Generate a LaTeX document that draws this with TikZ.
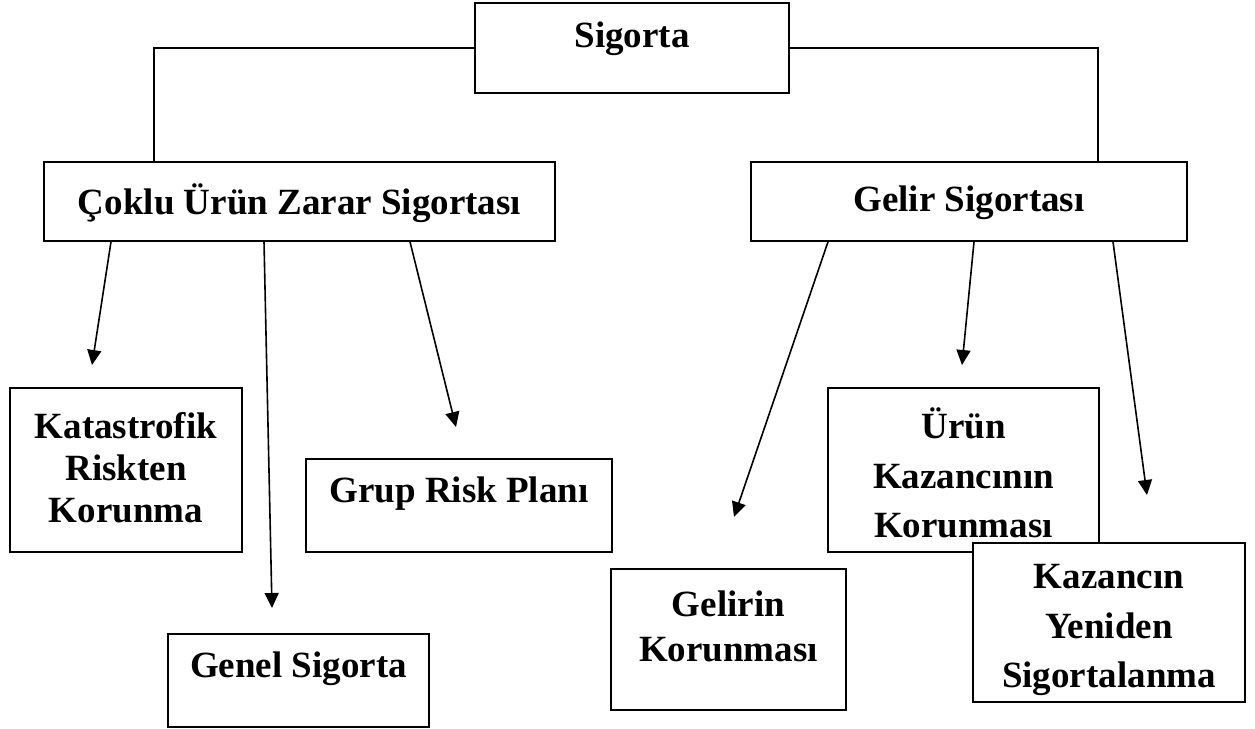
\documentclass[tikz,border=0pt]{standalone}
\usepackage{fontspec}
\setmainfont{Liberation Serif}
\usetikzlibrary{arrows.meta}
\tikzset{
  box/.style={draw, line width=1.6pt, fill=white, inner sep=0pt},
  lbl/.style={align=center, font=\bfseries\fontsize{37}{43}\selectfont, inner sep=0pt},
  conn/.style={line width=1.6pt},
  arr/.style={line width=1.6pt, -{Triangle[length=15pt,width=14pt]}}
}
\begin{document}
\begin{tikzpicture}[x=1pt,y=-1pt]
\useasboundingbox (0,0) rectangle (1255,728);
% boxes
\node[box, minimum width=314pt, minimum height=90pt] (sig) at (632,48) {};
\node[box, minimum width=511pt, minimum height=79pt] (cok) at (299.5,201.5) {};
\node[box, minimum width=436pt, minimum height=79pt] (gel) at (969,201.5) {};
\node[box, minimum width=232pt, minimum height=164pt] (kat) at (126,470) {};
\node[box, minimum width=306pt, minimum height=93pt] (grp) at (459,505.5) {};
\node[box, minimum width=261pt, minimum height=93pt] (gen) at (298.5,680.5) {};
\node[box, minimum width=235pt, minimum height=141pt] (glr) at (728.5,639.5) {};
\node[box, minimum width=271pt, minimum height=164pt] (urn) at (963.5,470) {};
\node[box, minimum width=272pt, minimum height=159pt] (kaz) at (1109,622.5) {};
% texts
\node[lbl] (tsig) at (632,39) {Sigorta};
\node[lbl] (tcok) at (299.5,203) {Çoklu Ürün Zarar Sigortası};
\node[lbl] (tgel) at (969,203) {Gelir Sigortası};
\node[lbl, font=\bfseries\fontsize{37}{42}\selectfont] (tkat) at (126,468) {Katastrofik\\Riskten\\Korunma};
\node[lbl] (tgrp) at (459,494) {Grup Risk Planı};
\node[lbl] (tgen) at (298.5,669) {Genel Sigorta};
\node[lbl, font=\bfseries\fontsize{37}{45}\selectfont] (tglr) at (728.5,626) {Gelirin\\Korunması};
\node[lbl, font=\bfseries\fontsize{37}{49.5}\selectfont] (turn) at (963.5,473) {Ürün\\Kazancının\\Korunması};
\node[lbl, font=\bfseries\fontsize{37}{49.5}\selectfont] (tkaz) at (1109,630) {Kazancın\\Yeniden\\Sigortalanma};
% tree connectors
\draw[conn] (sig.west) -| ([xshift=-145.5pt]cok.north);
\draw[conn] (sig.east) -| ([xshift=129pt]gel.north);
% arrow tips (free ends)
\coordinate (e1) at (92,365);
\coordinate (e2) at (272,608);
\coordinate (e3) at (456,427);
\coordinate (e4) at (734,517);
\coordinate (e5) at (962,365);
\coordinate (e6) at (1147,495);
\draw[arr] ([xshift=-188.5pt]cok.south) -- (e1);
\draw[arr] ([xshift=-35.5pt]cok.south) -- (e2);
\draw[arr] ([xshift=110.5pt]cok.south) -- (e3);
\draw[arr] ([xshift=-141pt]gel.south) -- (e4);
\draw[arr] ([xshift=5pt]gel.south) -- (e5);
\draw[arr] ([xshift=144pt]gel.south) -- (e6);
\end{tikzpicture}
\end{document}
